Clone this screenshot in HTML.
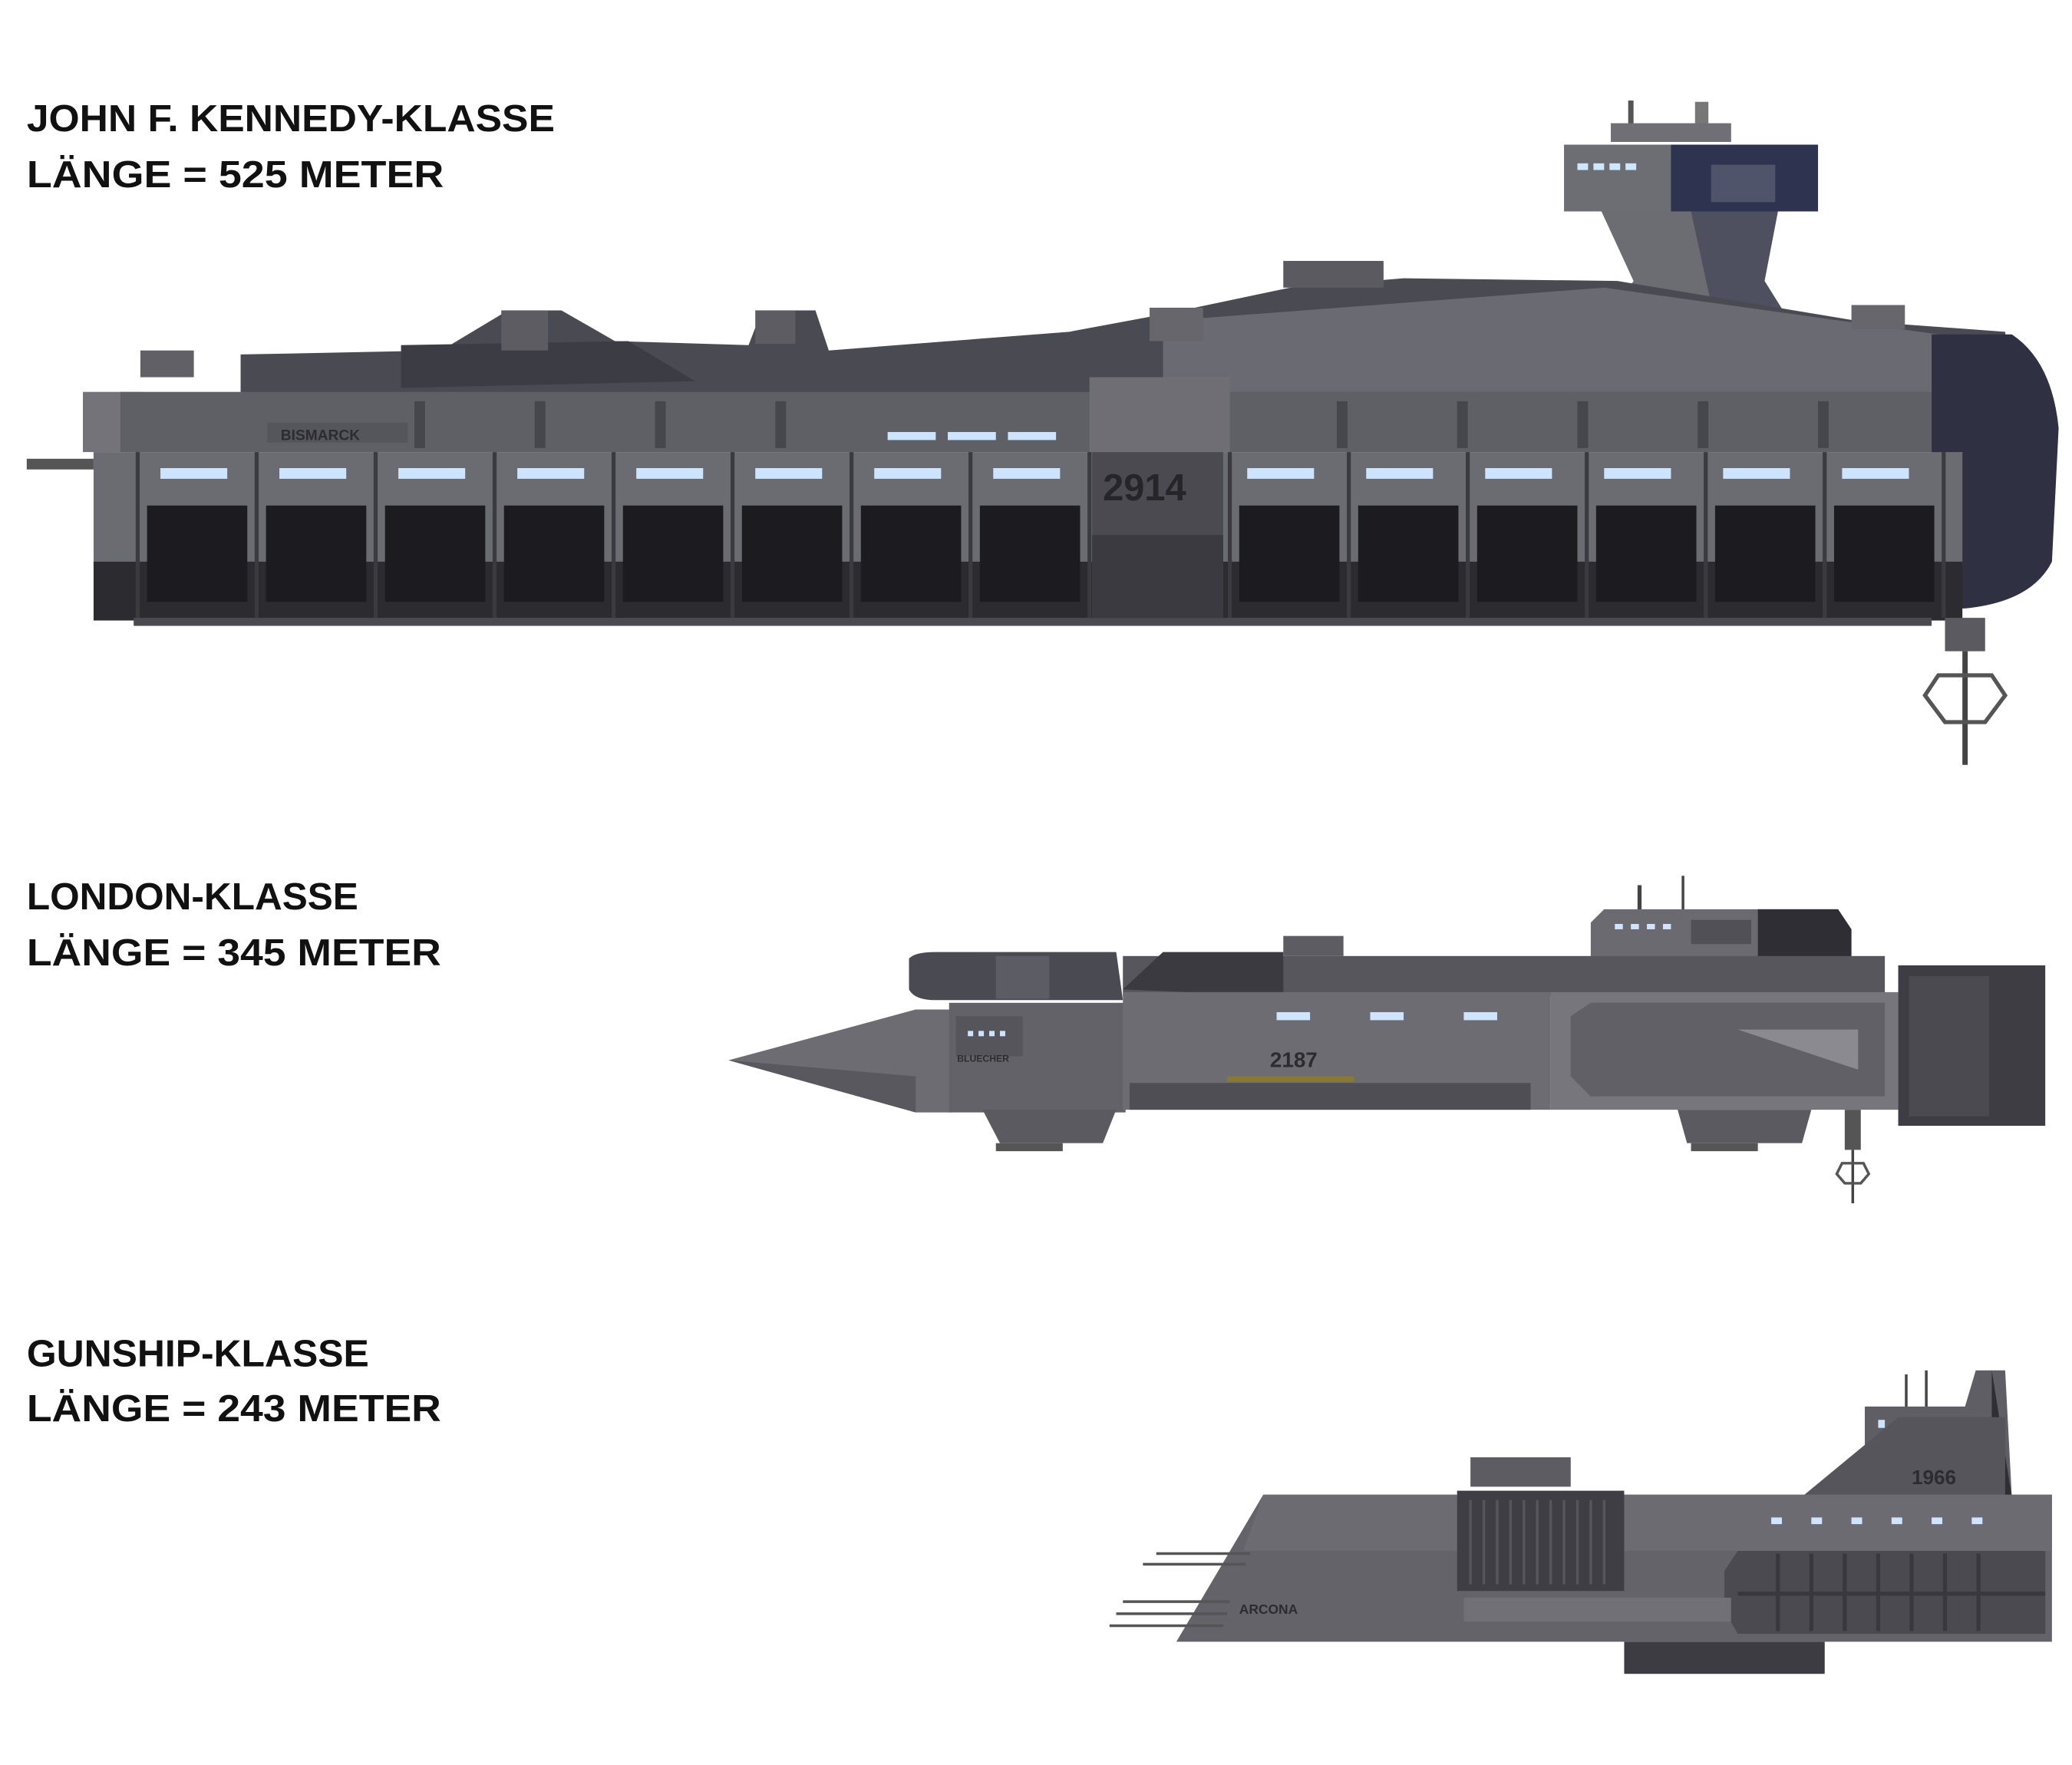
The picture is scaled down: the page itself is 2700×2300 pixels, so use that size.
<!DOCTYPE html>
<html><head><meta charset="utf-8"><style>
html,body{margin:0;padding:0;background:#fff}
svg{display:block}
.t{font-family:"Liberation Sans Narrow","Liberation Sans",sans-serif;font-weight:bold;font-size:28px;fill:#111}
</style></head><body>
<svg width="2700" height="2300" viewBox="0 0 1550 1320" xmlns="http://www.w3.org/2000/svg">
<rect width="1550" height="1320" fill="#fff"/>
<text class="t" x="20" y="98" textLength="395" lengthAdjust="spacingAndGlyphs">JOHN F. KENNEDY-KLASSE</text>
<text class="t" x="20" y="140" textLength="312" lengthAdjust="spacingAndGlyphs">LÄNGE = 525 METER</text>
<text class="t" x="20" y="680" textLength="248" lengthAdjust="spacingAndGlyphs">LONDON-KLASSE</text>
<text class="t" x="20" y="722" textLength="310" lengthAdjust="spacingAndGlyphs">LÄNGE = 345 METER</text>
<text class="t" x="20" y="1022" textLength="256" lengthAdjust="spacingAndGlyphs">GUNSHIP-KLASSE</text>
<text class="t" x="20" y="1063" textLength="310" lengthAdjust="spacingAndGlyphs">LÄNGE = 243 METER</text>

<!-- SHIP 1 -->
<g>
<!-- tower -->
<rect x="1218" y="75" width="4" height="20" fill="#555"/><rect x="1268" y="76" width="10" height="24" fill="#777"/>
<rect x="1205" y="92" width="90" height="14" fill="#6f6f75"/>
<path d="M1170 108 H1360 V158 H1170Z" fill="#6d6d74"/>
<path d="M1250 108 H1360 V158 H1250Z" fill="#2e3350"/>
<rect x="1280" y="123" width="48" height="28" fill="#50546a"/>
<g fill="#cfe6ff"><rect x="1180" y="122" width="8" height="5"/><rect x="1192" y="122" width="8" height="5"/><rect x="1204" y="122" width="8" height="5"/><rect x="1216" y="122" width="8" height="5"/></g>
<path d="M1198 158 H1330 L1320 210 L1345 250 H1195 L1222 210Z" fill="#6c6c73"/>
<path d="M1265 158 H1330 L1320 210 L1345 250 H1285Z" fill="#4e5060"/>
<!-- superstructure -->
<path d="M180 265 L330 262 L380 232 L420 232 L460 255 L560 258 L570 232 L610 232 L620 262 L800 248 L870 235 L965 215 L1050 208 L1210 210 L1390 240 L1500 248 L1505 295 L180 295Z" fill="#4a4a52"/>
<path d="M870 240 L1200 215 L1450 250 L1450 295 L870 295Z" fill="#6a6a72"/>
<path d="M300 258 L470 255 L520 285 L300 290Z" fill="#3c3c44"/>
<rect x="960" y="195" width="75" height="20" fill="#5a5a60"/><rect x="1385" y="228" width="40" height="18" fill="#66666c"/>
<rect x="105" y="262" width="40" height="20" fill="#606066"/><rect x="375" y="232" width="35" height="30" fill="#5c5c62"/><rect x="565" y="232" width="30" height="25" fill="#5c5c62"/>
<rect x="860" y="230" width="40" height="25" fill="#66666c"/>
<!-- left tower -->
<rect x="62" y="293" width="45" height="45" fill="#737379"/>
<rect x="20" y="343" width="50" height="8" fill="#555"/>
<!-- upper deck -->
<rect x="90" y="293" width="1360" height="45" fill="#5f5f66"/>
<g fill="#46464d"><rect x="310" y="300" width="8" height="35"/><rect x="400" y="300" width="8" height="35"/><rect x="490" y="300" width="8" height="35"/><rect x="580" y="300" width="8" height="35"/><rect x="1000" y="300" width="8" height="35"/><rect x="1090" y="300" width="8" height="35"/><rect x="1180" y="300" width="8" height="35"/><rect x="1270" y="300" width="8" height="35"/><rect x="1360" y="300" width="8" height="35"/></g>
<rect x="815" y="282" width="105" height="56" fill="#6e6e74"/>
<rect x="200" y="316" width="105" height="15" fill="#55555c"/>
<text x="210" y="329" font-family="Liberation Sans" font-weight="bold" font-size="11" fill="#2c2c30">BISMARCK</text>
<!-- bow -->
<path d="M1445 250 L1505 250 Q1535 270 1540 320 L1535 420 Q1520 450 1470 455 L1445 455Z" fill="#2f3142"/>
<!-- main hull -->
<rect x="70" y="338" width="1398" height="85" fill="#6b6b72"/>
<rect x="70" y="420" width="1398" height="44" fill="#2b2b30"/>
<rect x="100" y="462" width="1345" height="6" fill="#4a4a50"/>
<g stroke="#3a3a40" stroke-width="3">
<line x1="103" y1="338" x2="103" y2="462"/><line x1="192" y1="338" x2="192" y2="462"/><line x1="281" y1="338" x2="281" y2="462"/><line x1="370" y1="338" x2="370" y2="462"/><line x1="459" y1="338" x2="459" y2="462"/><line x1="548" y1="338" x2="548" y2="462"/><line x1="637" y1="338" x2="637" y2="462"/><line x1="726" y1="338" x2="726" y2="462"/><line x1="815" y1="338" x2="815" y2="462"/>
<line x1="920" y1="338" x2="920" y2="462"/><line x1="1009" y1="338" x2="1009" y2="462"/><line x1="1098" y1="338" x2="1098" y2="462"/><line x1="1187" y1="338" x2="1187" y2="462"/><line x1="1276" y1="338" x2="1276" y2="462"/><line x1="1365" y1="338" x2="1365" y2="462"/><line x1="1454" y1="338" x2="1454" y2="462"/></g>
<g fill="#1c1c20"><rect x="110" y="378" width="75" height="72"/><rect x="199" y="378" width="75" height="72"/><rect x="288" y="378" width="75" height="72"/><rect x="377" y="378" width="75" height="72"/><rect x="466" y="378" width="75" height="72"/><rect x="555" y="378" width="75" height="72"/><rect x="644" y="378" width="75" height="72"/><rect x="733" y="378" width="75" height="72"/><rect x="927" y="378" width="75" height="72"/><rect x="1016" y="378" width="75" height="72"/><rect x="1105" y="378" width="75" height="72"/><rect x="1194" y="378" width="75" height="72"/><rect x="1283" y="378" width="75" height="72"/><rect x="1372" y="378" width="75" height="72"/></g>
<g fill="#cde4ff"><rect x="120" y="350" width="50" height="8"/><rect x="209" y="350" width="50" height="8"/><rect x="298" y="350" width="50" height="8"/><rect x="387" y="350" width="50" height="8"/><rect x="476" y="350" width="50" height="8"/><rect x="565" y="350" width="50" height="8"/><rect x="654" y="350" width="50" height="8"/><rect x="743" y="350" width="50" height="8"/><rect x="933" y="350" width="50" height="8"/><rect x="1022" y="350" width="50" height="8"/><rect x="1111" y="350" width="50" height="8"/><rect x="1200" y="350" width="50" height="8"/><rect x="1289" y="350" width="50" height="8"/><rect x="1378" y="350" width="50" height="8"/>
<rect x="664" y="323" width="36" height="6"/><rect x="709" y="323" width="36" height="6"/><rect x="754" y="323" width="36" height="6"/></g>
<rect x="817" y="338" width="98" height="124" fill="#4a4a50"/>
<rect x="817" y="400" width="98" height="62" fill="#3a3a40"/>
<text x="825" y="374" font-family="Liberation Sans Narrow,Liberation Sans" font-weight="bold" font-size="28" fill="#25252a">2914</text>
<!-- bottom antenna -->
<rect x="1455" y="462" width="30" height="25" fill="#5a5a60"/>
<rect x="1468" y="487" width="4" height="85" fill="#444"/>
<path d="M1450 505 L1490 505 L1500 520 L1485 540 L1455 540 L1440 520Z" fill="none" stroke="#555" stroke-width="3"/>
</g>

<!-- SHIP 2 -->
<g>
<rect x="1225" y="662" width="3" height="22" fill="#444"/><rect x="1258" y="655" width="2" height="30" fill="#444"/>
<path d="M1190 690 L1200 680 L1375 680 L1385 695 L1385 718 L1190 718Z" fill="#6a6a70"/>
<path d="M1315 680 H1375 L1385 695 V718 H1315Z" fill="#2e2e34"/>
<rect x="1265" y="688" width="45" height="18" fill="#505056"/>
<g fill="#cfe4ff"><rect x="1208" y="691" width="6" height="4"/><rect x="1220" y="691" width="6" height="4"/><rect x="1232" y="691" width="6" height="4"/><rect x="1244" y="691" width="6" height="4"/></g>
<rect x="840" y="715" width="570" height="30" fill="#56565c"/>
<path d="M840 740 L870 712 L960 712 L960 745Z" fill="#3a3a40"/>
<rect x="960" y="700" width="45" height="15" fill="#5c5c62"/>
<path d="M680 717 Q684 712 700 712 L835 712 L840 748 L700 748 Q684 748 680 740Z" fill="#4a4a52"/>
<rect x="745" y="715" width="40" height="32" fill="#5c5c64"/>
<path d="M545 793 L685 755 L712 755 L712 832 L685 832Z" fill="#6c6c72"/>
<path d="M545 793 L685 805 L685 832Z" fill="#58585e"/>
<rect x="710" y="750" width="132" height="82" fill="#626268"/>
<rect x="715" y="760" width="50" height="30" fill="#55555b"/>
<g fill="#cfe4ff"><rect x="724" y="771" width="4" height="4"/><rect x="732" y="771" width="4" height="4"/><rect x="740" y="771" width="4" height="4"/><rect x="748" y="771" width="4" height="4"/></g>
<text x="716" y="794" font-family="Liberation Sans" font-weight="bold" font-size="7" fill="#2c2c30">BLUECHER</text>
<rect x="840" y="742" width="320" height="88" fill="#6c6c72"/>
<rect x="845" y="810" width="300" height="20" fill="#4e4e54"/>
<g fill="#cfe4ff"><rect x="955" y="757" width="25" height="6"/><rect x="1025" y="757" width="25" height="6"/><rect x="1095" y="757" width="25" height="6"/></g>
<text x="950" y="798" font-family="Liberation Sans Narrow,Liberation Sans" font-weight="bold" font-size="16" fill="#2c2c30">2187</text>
<rect x="918" y="805" width="95" height="4" fill="#8a7a30"/>
<path d="M1160 742 L1420 742 L1420 830 L1160 830Z" fill="#76767c"/>
<path d="M1175 760 L1190 750 L1410 750 L1410 820 L1190 820 L1175 805Z" fill="#606066"/>
<path d="M1300 770 L1390 770 L1390 800Z" fill="#8a8a90"/>
<rect x="1420" y="722" width="110" height="120" fill="#3d3d43"/>
<rect x="1428" y="730" width="60" height="105" fill="#4a4a50"/>
<path d="M735 830 L835 830 L825 855 L748 855Z" fill="#5a5a60"/>
<path d="M1255 830 L1355 830 L1348 855 L1262 855Z" fill="#5a5a60"/>
<rect x="745" y="855" width="50" height="6" fill="#555"/><rect x="1265" y="855" width="50" height="6" fill="#555"/>
<rect x="1380" y="830" width="12" height="30" fill="#555"/>
<rect x="1385" y="860" width="2" height="40" fill="#444"/>
<path d="M1378 870 L1394 870 L1398 878 L1392 885 L1380 885 L1374 878Z" fill="none" stroke="#555" stroke-width="2"/>
</g>

<!-- SHIP 3 -->
<g>
<rect x="1425" y="1028" width="2" height="30" fill="#444"/><rect x="1440" y="1025" width="2" height="30" fill="#444"/>
<path d="M1395 1052 L1470 1052 L1478 1025 L1500 1025 L1505 1120 L1395 1120Z" fill="#5e5e64"/>
<path d="M1490 1025 L1505 1120 L1490 1120Z" fill="#2e2e34"/>
<g fill="#cfe4ff"><rect x="1405" y="1062" width="5" height="6"/><rect x="1418" y="1062" width="5" height="6"/><rect x="1431" y="1062" width="5" height="6"/></g>
<path d="M1345 1122 L1420 1060 L1500 1060 L1500 1122Z" fill="#55555b"/>
<text x="1430" y="1110" font-family="Liberation Sans Narrow,Liberation Sans" font-weight="bold" font-size="15" fill="#2c2c30">1966</text>
<rect x="1100" y="1090" width="75" height="22" fill="#5c5c62"/>
<path d="M945 1118 L1535 1118 L1535 1228 L880 1228Z" fill="#636369"/>
<path d="M945 1118 L1535 1118 L1535 1160 L930 1160Z" fill="#6b6b71"/>
<rect x="1090" y="1115" width="125" height="75" fill="#3e3e44"/>
<g stroke="#55555b" stroke-width="2"><line x1="1100" y1="1122" x2="1100" y2="1185"/><line x1="1110" y1="1122" x2="1110" y2="1185"/><line x1="1120" y1="1122" x2="1120" y2="1185"/><line x1="1130" y1="1122" x2="1130" y2="1185"/><line x1="1140" y1="1122" x2="1140" y2="1185"/><line x1="1150" y1="1122" x2="1150" y2="1185"/><line x1="1160" y1="1122" x2="1160" y2="1185"/><line x1="1170" y1="1122" x2="1170" y2="1185"/><line x1="1180" y1="1122" x2="1180" y2="1185"/><line x1="1190" y1="1122" x2="1190" y2="1185"/><line x1="1200" y1="1122" x2="1200" y2="1185"/></g>
<g fill="#cfe4ff"><rect x="1325" y="1135" width="8" height="5"/><rect x="1355" y="1135" width="8" height="5"/><rect x="1385" y="1135" width="8" height="5"/><rect x="1415" y="1135" width="8" height="5"/><rect x="1445" y="1135" width="8" height="5"/><rect x="1475" y="1135" width="8" height="5"/></g>
<path d="M1300 1160 L1530 1160 L1530 1222 L1300 1222 L1290 1205 L1290 1175Z" fill="#4a4a50"/>
<g stroke="#38383e" stroke-width="3"><line x1="1330" y1="1162" x2="1330" y2="1220"/><line x1="1355" y1="1162" x2="1355" y2="1220"/><line x1="1380" y1="1162" x2="1380" y2="1220"/><line x1="1405" y1="1162" x2="1405" y2="1220"/><line x1="1430" y1="1162" x2="1430" y2="1220"/><line x1="1455" y1="1162" x2="1455" y2="1220"/><line x1="1480" y1="1162" x2="1480" y2="1220"/><line x1="1300" y1="1192" x2="1530" y2="1192"/></g>
<rect x="1095" y="1195" width="200" height="18" fill="#707076"/>
<text x="927" y="1207" font-family="Liberation Sans" font-weight="bold" font-size="10" fill="#2c2c30">ARCONA</text>
<rect x="1215" y="1228" width="150" height="24" fill="#3c3c42"/>
<g stroke="#555" stroke-width="2"><line x1="865" y1="1162" x2="935" y2="1162"/><line x1="855" y1="1170" x2="932" y2="1170"/><line x1="840" y1="1198" x2="920" y2="1198"/><line x1="835" y1="1207" x2="918" y2="1207"/><line x1="830" y1="1216" x2="915" y2="1216"/></g>
</g>
</svg>
</body></html>
